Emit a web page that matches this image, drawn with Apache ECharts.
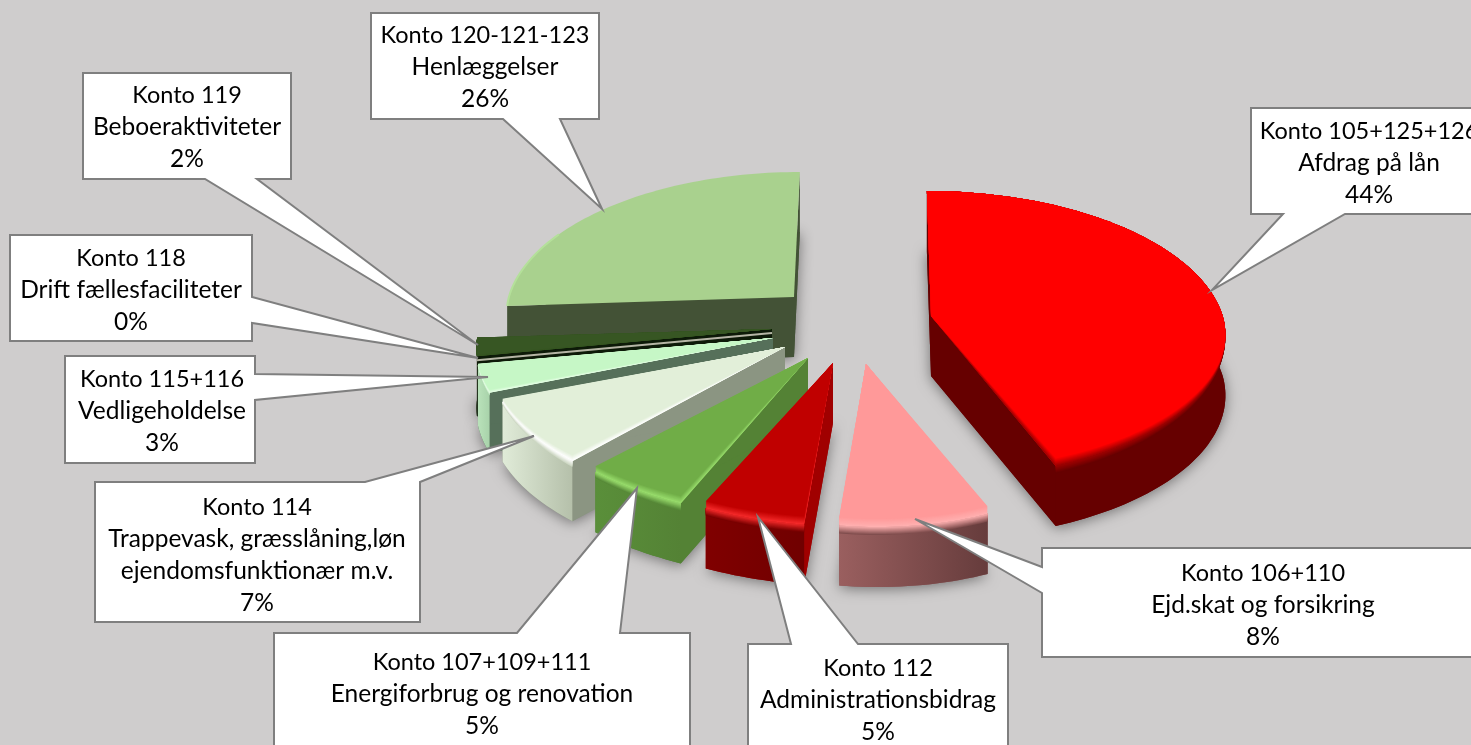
<!DOCTYPE html>
<html>
<head>
<meta charset="utf-8">
<title>Konto fordeling</title>
<script src="https://cdn.jsdelivr.net/npm/echarts@6/dist/echarts.min.js"></script>
<style>
    html, body { margin: 0; padding: 0; background: #cfcdcd; overflow: hidden; }
    #main { width: 1471px; height: 745px; }
</style>
</head>
<body>
<div id="main"></div>
<script>
// data
const konti = ['Konto 105+125+126', 'Konto 106+110', 'Konto 112', 'Konto 107+109+111', 'Konto 114', 'Konto 115+116', 'Konto 118', 'Konto 119', 'Konto 120-121-123'];
const poster = ['Afdrag på lån', 'Ejd.skat og forsikring', 'Administrationsbidrag', 'Energiforbrug og renovation', 'Trappevask, græsslåning,løn\nejendomsfunktionær m.v.', 'Vedligeholdelse', 'Drift fællesfaciliteter', 'Beboeraktiviteter', 'Henlæggelser'];
const procent = [44, 8, 5, 5, 7, 3, 0, 2, 26];

// pie look
const pieCenter = [860, 330];
const pieRadius = 290;
const pieTilt = 141.5;
const perspective = 0.132;
const pieDepth = 60;
const sliceOffset = [[71, -14], [6, 34], [-27, 33], [-52, 28], [-75, 17], [-87, 8], [-88, 3], [-88, -1], [-66, -33]];
// sideways nudge of each rim at its start and end, the original camera is slightly off axis
const rimLean = [[0, 3], [0, 15], [13, 13], [13, 7], [7, 1], [0, -3], [-3, -3], [-3, -3], [5, 2]];
const topColor = ['#ff0000', '#ff9999', '#c00000', '#70ad47', '#e2efd9', '#c6f7c6', '#b5b5a5', '#375623', '#a9d18e'];
const sideColor = ['#660000', '#8a5656', '#a00000', '#548235', '#8b9582', '#56705a', '#b5b5a5', '#0d1a08', '#435236'];
const wallLeft = ['#660000', '#9a5f5f', '#800000', '#5a8f3a', '#e0ebd8', '#b9e2ba', '#b5b5a5', '#1e3012', '#88b070'];
const wallRight = ['#660000', '#663c3c', '#700000', '#548235', '#b5c0aa', '#a8d2aa', '#b5b5a5', '#1e3012', '#88b070'];
const bevelColor = ['#a00000', '#ffb0b0', '#f42a2a', '#98dc6c', '#ffffff', '#e8ffe8', '#b5b5a5', '#375623', '#a9d18e'];
const bevelSize = 8;

// callout look: box [x0, y0, x1, y1], wedge base and tip, text centre
const calloutBox = [[1251, 108, 1490, 214], [1042, 548, 1490, 657], [748, 644, 1008, 770], [274, 633, 690, 770], [95, 482, 420, 622], [65, 356, 255, 463], [10, 235, 252, 341], [83, 73, 291, 179], [371, 13, 599, 119]];
const calloutBase = [[1283, 214, 1345, 214], [1042, 567, 1042, 593], [791, 644, 858, 644], [517, 633, 620, 633], [365, 482, 420, 482], [255, 374, 255, 400], [252, 297, 252, 323], [205, 179, 257, 179], [503, 119, 560, 119]];
const calloutTip = [[1212, 290], [915, 519], [758, 517], [637, 488], [534, 436], [488, 377], [478, 358], [478, 345], [602, 209]];
const calloutText = [[1369, 163], [1263, 605], [878, 700], [482, 694], [257, 555], [162, 411], [131, 290], [187, 127], [485, 67]];

const total = procent.reduce((a, b) => a + b, 0);
const startAngle = [];
procent.reduce((sum, v, i) => { startAngle[i] = sum / total * Math.PI * 2; return sum + v; }, 0);

function project(i, theta) {
    const u = Math.sin(theta), v = Math.cos(theta);
    const s = 1 / (1 + perspective * v);
    const ax = pieCenter[0] + sliceOffset[i][0];
    const ay = pieCenter[1] + sliceOffset[i][1];
    const lean = v > 0 ? sliceOffset[i][0] * (s - 1) * 0.5 : 0;
    return [ax + pieRadius * u * s + lean, ay - pieTilt * v * s];
}

function arcPoints(i) {
    const a0 = startAngle[i];
    const a1 = a0 + procent[i] / total * Math.PI * 2;
    const n = Math.max(2, Math.round((a1 - a0) * 40));
    const pts = [];
    for (let k = 0; k <= n; k++) {
        const th = a0 + (a1 - a0) * k / n;
        const p = project(i, th);
        p[0] += rimLean[i][0] + (rimLean[i][1] - rimLean[i][0]) * k / n;
        pts.push({ p: p, w: Math.max(0, -Math.cos(th)) });
    }
    return pts;
}

function poly(points, style) {
    return { type: 'polygon', silent: true, shape: { points: points }, style: style };
}

function renderSlice(params, api) {
    const i = api.value(0);
    const apex = [pieCenter[0] + sliceOffset[i][0], pieCenter[1] + sliceOffset[i][1]];
    const arc = arcPoints(i);
    const top = arc.map(a => a.p);
    const first = top[0], last = top[top.length - 1];
    const down = p => [p[0], p[1] + pieDepth];
    const children = [];

    if (procent[i] === 0) {
        children.push({ type: 'polyline', silent: true, shape: { points: [apex].concat(top) }, style: { stroke: topColor[i], lineWidth: 2, fill: null } });
        return { type: 'group', children: children };
    }

    // soft shadow under the foot of the slice
    children.push(poly([down(apex)].concat(top.map(down)), {
        fill: sideColor[i], shadowBlur: 14, shadowColor: 'rgba(0,0,0,0.45)', shadowOffsetY: 2
    }));
    // radial walls
    [first, last].forEach(p => {
        children.push(poly([apex, p, down(p), down(apex)], { fill: sideColor[i] }));
    });
    // outer wall, the back slice shows none
    if (i !== 8) {
        children.push(poly(top.concat(top.map(down).reverse()), {
            fill: new echarts.graphic.LinearGradient(0, 0, 1, 0, [
                { offset: 0, color: wallLeft[i] },
                { offset: 1, color: wallRight[i] }
            ])
        }));
    }
    children.push(poly([apex].concat(top), { fill: topColor[i] }));

    if (i === 8) {
        // thin lighter rim on the left part only
        children.push({ type: 'polyline', silent: true, shape: { points: top.slice(0, Math.round(top.length * 0.35)) }, style: { stroke: '#b4e09a', lineWidth: 2, fill: null } });
        return { type: 'group', children: children };
    }

    // bevel along the rim: wall to bright edge to top colour
    const wallMid = echarts.color.lerp(0.5, [wallLeft[i], wallRight[i]]);
    for (let k = bevelSize; k > 0; k--) {
        const shifted = arc.map(a => [a.p[0], a.p[1] + k * a.w]);
        children.push(poly(shifted.concat(top.slice().reverse()), {
            fill: echarts.color.lerp(k / bevelSize, [bevelColor[i], wallMid])
        }));
    }
    for (let k = 0; k <= bevelSize; k++) {
        const shifted = arc.map(a => [a.p[0], a.p[1] - k * a.w]);
        children.push(poly([apex].concat(shifted), {
            fill: echarts.color.lerp(k / bevelSize, [bevelColor[i], topColor[i]])
        }));
    }
    return { type: 'group', children: children };
}

function renderCallout(params, api) {
    const i = api.value(0);
    const b = calloutBox[i], base = calloutBase[i], tip = calloutTip[i];
    let outline;
    if (base[1] === base[3] && base[1] === b[1]) {
        outline = [[b[0], b[1]], [base[0], b[1]], tip, [base[2], b[1]], [b[2], b[1]], [b[2], b[3]], [b[0], b[3]]];
    } else if (base[1] === base[3]) {
        outline = [[b[0], b[1]], [b[2], b[1]], [b[2], b[3]], [base[2], b[3]], tip, [base[0], b[3]], [b[0], b[3]]];
    } else if (base[0] === b[0]) {
        outline = [[b[0], b[1]], [b[2], b[1]], [b[2], b[3]], [b[0], b[3]], [b[0], base[3]], tip, [b[0], base[1]]];
    } else {
        outline = [[b[0], b[1]], [b[2], b[1]], [b[2], base[1]], tip, [b[2], base[3]], [b[2], b[3]], [b[0], b[3]]];
    }
    // digits run wider than in the original font, so the Konto line is set a bit smaller
    const body = poster[i].split('\n').map(s => '{p|' + s + '}').join('\n');
    return {
        type: 'group',
        children: [
            poly(outline, { fill: '#ffffff', stroke: '#7f7f7f', lineWidth: 2 }),
            {
                type: 'text',
                silent: true,
                style: {
                    x: calloutText[i][0],
                    y: calloutText[i][1],
                    text: '{k|' + konti[i] + '}\n' + body + '\n{p|' + procent[i] + '%}',
                    align: 'center',
                    verticalAlign: 'middle',
                    fill: '#000000',
                    rich: {
                        k: { font: '23.5px Lato', lineHeight: 32, fill: '#000000' },
                        p: { font: '24.5px Lato', lineHeight: 32, fill: '#000000' }
                    }
                }
            }
        ]
    };
}

const myChart = echarts.init(document.getElementById('main'));
const rows = procent.map((v, i) => [i, v]);
myChart.setOption({
    backgroundColor: '#cfcdcd',
    animation: false,
    series: [
        { type: 'custom', coordinateSystem: 'none', renderItem: renderSlice, data: rows.slice().reverse(), z: 1, silent: true },
        { type: 'custom', coordinateSystem: 'none', renderItem: renderCallout, data: rows, z: 2, silent: true }
    ]
});
</script>
</body>
</html>
